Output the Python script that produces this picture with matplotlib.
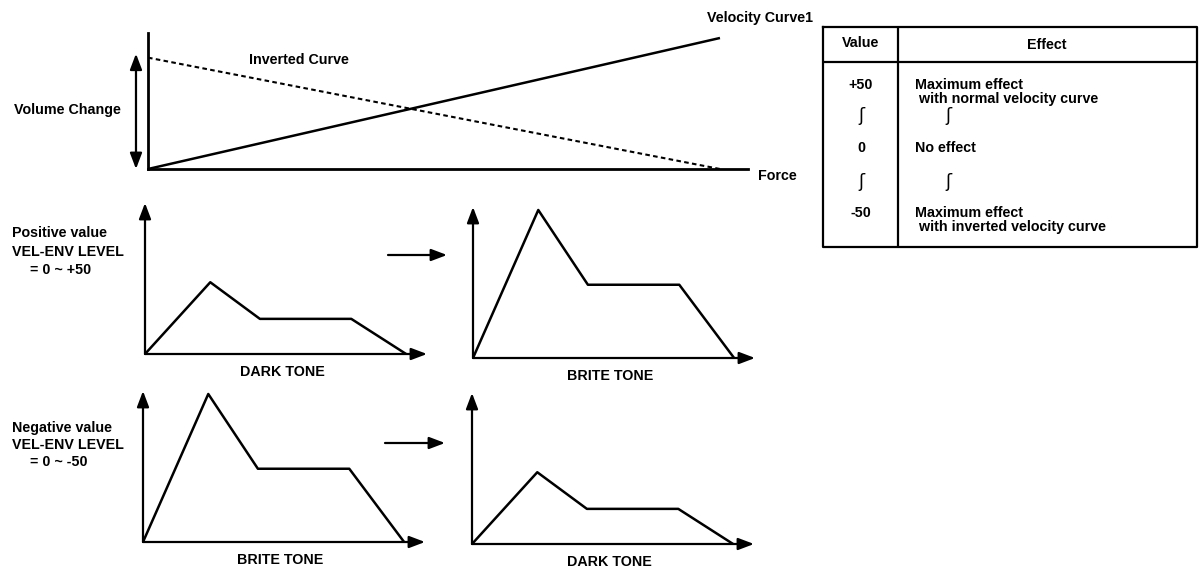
import matplotlib
matplotlib.use("Agg")
import matplotlib.pyplot as plt
from matplotlib.patches import FancyArrowPatch

plt.rcParams['font.family'] = ['Liberation Sans', 'DejaVu Sans']
plt.rcParams['font.weight'] = 'bold'

W, H = 1200, 569

# velocity curves (force 0..100, volume change 0..100)
force = [0, 100]
normal_curve = [0, 100]
inverted_curve = [85, 0]

# envelope shapes (time vs level)
env_time = [0, 2.5, 4.4, 7.9, 10.0]
dark_tone = [0, 48, 23.5, 23.5, 0]
brite_tone = [0, 99, 49, 49, 0]

# table
table_values = ['+50', 'ʃ', '0', 'ʃ', '-50']
table_effects = ['Maximum effect\n with normal velocity curve', 'ʃ', 'No effect', 'ʃ',
                 'Maximum effect\n with inverted velocity curve']

FS = 10.3
ARROW = '-|>,head_length=0.95,head_width=0.36'
fig = plt.figure(figsize=(W / 100, H / 100), dpi=100)


def add_ax(left, top, right, bottom):
    return fig.add_axes([left / W, 1 - bottom / H, (right - left) / W, (bottom - top) / H])


def ftext(x, y, s, **kw):
    kw.setdefault('fontsize', FS)
    kw.setdefault('va', 'center')
    fig.text(x / W, 1 - y / H, s, **kw)


def farrow(x0, x1, y):
    fig.add_artist(FancyArrowPatch((x0 / W, 1 - y / H), (x1 / W, 1 - y / H),
                                   transform=fig.transFigure, arrowstyle=ARROW,
                                   mutation_scale=10, lw=1.6, color='k',
                                   shrinkA=0, shrinkB=0))


# ---- top: velocity curve ----
ax = add_ax(148, 33, 748, 169)
ax.plot(force, normal_curve, color='k', lw=1.8, solid_capstyle='butt')
ax.plot(force, inverted_curve, color='k', lw=1.5, ls=(0, (2.2, 1.6)))
ax.set_xlim(0, 104.9)
ax.set_ylim(0, 103.8)
for s in ['top', 'right']:
    ax.spines[s].set_visible(False)
ax.spines['left'].set_linewidth(2)
ax.spines['bottom'].set_linewidth(2)
ax.set_xticks([])
ax.set_yticks([])
ax.patch.set_alpha(0)
ax.annotate('', xy=(-2.1, 88), xytext=(-2.1, 0), xycoords='data',
            arrowprops=dict(arrowstyle='<|-|>,head_length=0.95,head_width=0.36', lw=1.6,
                            color='k', mutation_scale=10, shrinkA=0, shrinkB=0),
            annotation_clip=False)

ftext(707, 18, 'Velocity Curve1')
ftext(249, 60, 'Inverted Curve')
ftext(14, 110, 'Volume Change')
ftext(758, 176, 'Force')

# ---- envelopes ----
panels = [
    (145, 354, dark_tone, 'DARK TONE'),
    (473, 358, brite_tone, 'BRITE TONE'),
    (143, 542, brite_tone, 'BRITE TONE'),
    (472, 544, dark_tone, 'DARK TONE'),
]
for ox, oy, levels, label in panels:
    ea = add_ax(ox, oy - 151, ox + 282, oy)
    ea.plot(env_time, levels, color='k', lw=1.8)
    ea.set_xlim(0, 10.8)
    ea.set_ylim(0, 101)
    ea.axis('off')
    for tip in [(0, 1), (1, 0)]:
        ea.annotate('', xy=tip, xytext=(0, 0), xycoords='axes fraction',
                    arrowprops=dict(arrowstyle=ARROW, lw=1.6, color='k',
                                    mutation_scale=10, shrinkA=0, shrinkB=0))
    ftext(ox + 137, oy + 18, label, ha='center')

farrow(388, 447, 255)
farrow(385, 445, 443)

ftext(12, 233, 'Positive value')
ftext(12, 252, 'VEL-ENV LEVEL')
ftext(30, 270, '= 0 ~ +50')
ftext(12, 428, 'Negative value')
ftext(12, 445, 'VEL-ENV LEVEL')
ftext(30, 462, '= 0 ~ -50')

# ---- table ----
ta = add_ax(823, 27, 1197, 247)
ta.set_xlim(823, 1197)
ta.set_ylim(247, 27)
ta.axis('off')
lw = 1.6
ta.plot([823, 1197, 1197, 823, 823], [27, 27, 247, 247, 27], color='k', lw=lw, clip_on=False)
ta.plot([898, 898], [27, 247], color='k', lw=lw)
ta.plot([823, 1197], [62, 62], color='k', lw=lw)
ta.text(861, 43, 'Value', ha='center', va='center', fontsize=FS)
ta.text(1047, 45, 'Effect', ha='center', va='center', fontsize=FS)

row_y = [92, 116, 148, 182, 220]
for y, v, e in zip(row_y, table_values, table_effects):
    if v == 'ʃ':
        ta.text(861, y, v, ha='center', va='center', fontsize=13, fontweight='normal',
                family='DejaVu Sans')
        ta.text(948, y, e, ha='center', va='center', fontsize=13, fontweight='normal',
                family='DejaVu Sans')
    else:
        vy = y - 7 if '\n' in e else y
        ta.text(861, vy, v, ha='center', va='center', fontsize=FS)
        ta.text(915, y, e, ha='left', va='center', fontsize=FS, linespacing=1.0)

fig.savefig('out.png', dpi=100, facecolor='white')
